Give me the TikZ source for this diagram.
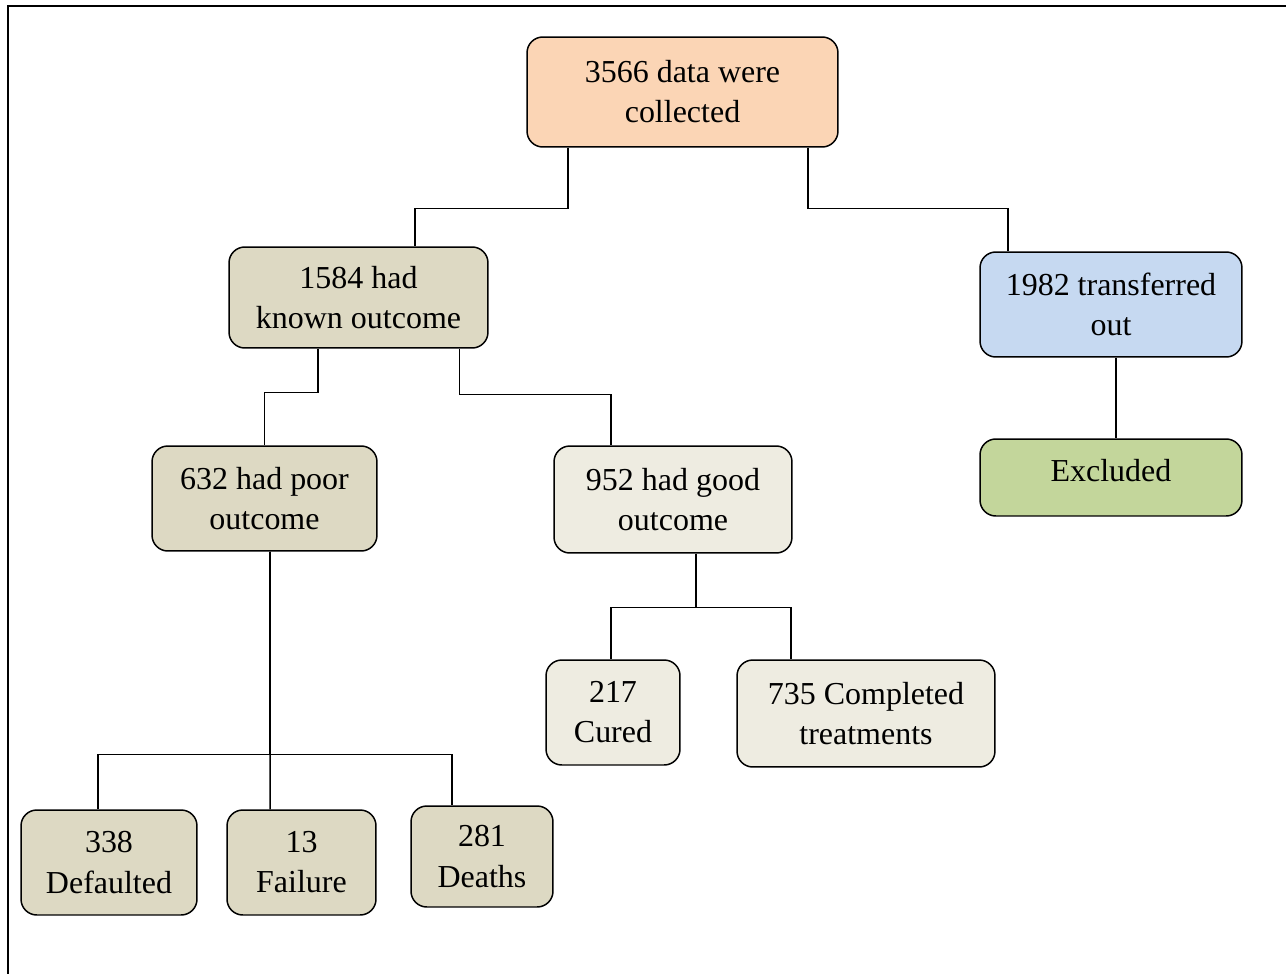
\documentclass[tikz,border=0pt]{standalone}
\usepackage{fontspec}
\setmainfont{Liberation Serif}
\usepackage{xcolor}
\usepackage{tikz}
\usetikzlibrary{positioning}
\definecolor{boxpeach}{RGB}{251,213,181}
\definecolor{boxtan}{RGB}{221,217,195}
\definecolor{boxcream}{RGB}{238,236,225}
\definecolor{boxblue}{RGB}{198,217,241}
\definecolor{boxgreen}{RGB}{195,214,155}

\begin{document}
\begin{tikzpicture}[
  x=0.02cm, y=-0.02cm,
  font=\fontsize{18.2}{22.8}\selectfont,
  every node/.style={align=center},
  flowbox/.style={draw=black, rounded corners=9pt, fill=#1,
                  line width=0.85pt, inner sep=2pt},
  link/.style={draw=black, line width=0.85pt},
  frameline/.style={draw=black, line width=1.3pt},
]

%% Page size and frame
\useasboundingbox (0,0) rectangle (1286,974);
\draw[frameline] (8,974) -- (8,6) -- (1286,6);

%% ---- Level 0 ----
\node[flowbox=boxpeach, minimum width=6.22cm, minimum height=2.2cm]
  (data) at (682.5,92) {3566 data were\\collected};

%% ---- Level 1 ----
\node[flowbox=boxtan, minimum width=5.18cm, minimum height=2.02cm]
  (known) at (358.5,297.5) {1584 had\\known outcome};
\node[flowbox=boxblue, minimum width=5.24cm, minimum height=2.1cm]
  (trans) at (1111,304.5) {1982 transferred\\out};

%% ---- Level 2 ----
\node[flowbox=boxtan, minimum width=4.5cm, minimum height=2.1cm]
  (poor) at (264.5,498.5) {632 had poor\\outcome};
\node[flowbox=boxcream, minimum width=4.76cm, minimum height=2.14cm]
  (good) at (673,499.5) {952 had good\\outcome};
\node[flowbox=boxgreen, minimum width=5.24cm, minimum height=1.54cm]
  (excl) at (1111,477.5) {\raisebox{0.28cm}{Excluded}};

%% ---- Level 3 ----
\node[flowbox=boxcream, minimum width=2.68cm, minimum height=2.1cm]
  (cured) at (613,712.5) {217\\Cured};
\node[flowbox=boxcream, minimum width=5.16cm, minimum height=2.14cm]
  (compl) at (866,713.5) {735 Completed\\treatments};

%% ---- Level 4 ----
\node[flowbox=boxtan, minimum width=3.52cm, minimum height=2.1cm]
  (dflt) at (109,862.5) {338\\Defaulted};
\node[flowbox=boxtan, minimum width=2.98cm, minimum height=2.1cm]
  (fail) at (301.5,862.5) {13\\Failure};
\node[flowbox=boxtan, minimum width=2.84cm, minimum height=2.02cm]
  (death) at (482,856.5) {281\\Deaths};

%% ---- Connectors ----
\draw[link] ([xshift=-2.29cm]data.south) -- ++(0,61) -| ([xshift=1.13cm]known.north);
\draw[link] ([xshift=2.51cm]data.south) -- ++(0,61) -| ([xshift=-2.06cm]trans.north);
\draw[link] ([xshift=0.1cm]trans.south) -- ([xshift=0.1cm]excl.north);
\draw[link] ([xshift=-0.81cm]known.south) -- ++(0,44) -| (poor.north);
\draw[link] ([xshift=2.02cm]known.south) -- ++(0,46) -| ([xshift=-1.24cm]good.north);
\draw[link] ([xshift=0.46cm]good.south) -- ++(0,54) -| ([xshift=-0.04cm]cured.north);
\draw[link] ([xshift=0.46cm]good.south) -- ++(0,54) -| ([xshift=-1.5cm]compl.north);
\draw[link] ([xshift=0.11cm]poor.south) -- ([xshift=-0.63cm]fail.north);
\draw[link] ([xshift=0.11cm]poor.south) -- ++(0,203) -| ([xshift=-0.22cm]dflt.north);
\draw[link] ([xshift=0.11cm]poor.south) -- ++(0,203) -| ([xshift=-0.6cm]death.north);

\end{tikzpicture}
\end{document}
